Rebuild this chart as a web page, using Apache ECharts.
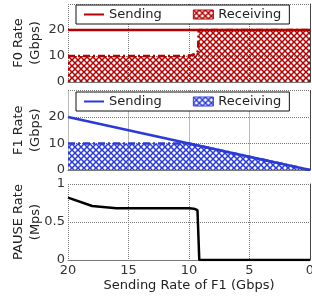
<!DOCTYPE html>
<html>
<head>
<meta charset="utf-8">
<script src="https://cdn.jsdelivr.net/npm/echarts@6/dist/echarts.min.js"></script>
<style>
  html, body { margin: 0; padding: 0; background: #fff; }
  #chart { width: 312px; height: 300px; }
</style>
</head>
<body>
<div id="chart"></div>
<script>
// F0 panel (x = sending rate of F1, y = Gbps)
const f0Sending = [[20, 20], [0, 20]]
const f0Receiving = [[20, 10], [10.4, 10], [9.8, 10.3], [9.4, 11], [9.25, 12], [9.2, 20], [0, 20]]
// F1 panel
const f1Sending = [[20, 20], [0, 0]]
const f1Receiving = [[20, 10], [10, 10], [0, 0]]
// PAUSE panel (Mps)
const pauseRate = [[20, 0.82], [18, 0.71], [16, 0.68], [14, 0.68], [12, 0.68], [10, 0.68], [9.6, 0.675], [9.3, 0.655], [9.15, 0], [0, 0]]

const xTicks = [0, 5, 10, 15, 20]
const legendNames = ['Sending', 'Receiving']

const RED = '#b30000'
const BLUE = '#2a3ad8'
const FONT = 'DejaVu Sans'

// crosshatch pattern used for the receiving areas
function hatch(color) {
  const c = document.createElement('canvas')
  c.width = 6
  c.height = 6
  const ctx = c.getContext('2d')
  ctx.strokeStyle = color
  ctx.lineWidth = 1.5
  ctx.beginPath()
  ctx.moveTo(-1, -1); ctx.lineTo(7, 7)
  ctx.moveTo(7, -1); ctx.lineTo(-1, 7)
  ctx.stroke()
  return { image: c, repeat: 'repeat' }
}
const redHatch = hatch(RED)
const blueHatch = hatch(BLUE)

const grids = [
  { left: 68, right: 2, top: 4, height: 78, outerBoundsMode: 'none' },
  { left: 68, right: 2, top: 90.5, height: 79.5, outerBoundsMode: 'none' },
  { left: 68, right: 2, top: 184, height: 76, outerBoundsMode: 'none' }
]

const gridLine = { show: true, lineStyle: { color: '#777', type: 'dotted', width: 1 } }

function xAxisFor(i, last) {
  return {
    gridIndex: i,
    type: 'value',
    inverse: true,
    min: xTicks[0],
    max: xTicks[xTicks.length - 1],
    interval: 5,
    axisLine: { show: true, onZero: false, lineStyle: { color: '#777', width: 1 } },
    axisTick: { show: false },
    splitLine: gridLine,
    axisLabel: { show: last, color: '#333', fontFamily: FONT, fontSize: 13, margin: 4 },
    name: last ? 'Sending Rate of F1 (Gbps)' : '',
    nameLocation: 'middle',
    nameGap: 19,
    nameMoveOverlap: false,
    nameTextStyle: { color: '#222', fontFamily: FONT, fontSize: 13 }
  }
}

function yAxisFor(i, name, max, interval) {
  return {
    gridIndex: i,
    type: 'value',
    min: 0,
    max: max,
    interval: interval,
    axisLine: { show: true, lineStyle: { color: '#444', width: 1 } },
    axisTick: { show: false },
    splitLine: gridLine,
    axisLabel: { color: '#333', fontFamily: FONT, fontSize: 13, margin: 3, showMaxLabel: max === 1 },
    name: name,
    nameLocation: 'middle',
    nameRotate: 90,
    nameGap: 24,
    nameMoveOverlap: false,
    nameTextStyle: { color: '#222', fontFamily: FONT, fontSize: 13, lineHeight: 17 }
  }
}

function legendFor(top, color, pattern) {
  return {
    left: 76,
    top: top,
    width: 226,
    orient: 'horizontal',
    backgroundColor: '#fff',
    borderColor: '#111',
    borderWidth: 1,
    borderRadius: 0,
    padding: [3, 8, 3, 8],
    itemGap: 31,
    itemWidth: 20,
    itemHeight: 9,
    selectedMode: false,
    textStyle: { color: '#222', fontFamily: FONT, fontSize: 13 },
    data: [
      { name: legendNames[0], icon: 'path://M0,4 L20,4 L20,6 L0,6 Z', itemStyle: { color: color } },
      { name: legendNames[1], icon: 'rect', itemStyle: { color: pattern, borderColor: color, borderWidth: 1 } }
    ]
  }
}

const chart = echarts.init(document.getElementById('chart'), null, { renderer: 'canvas' })

chart.setOption({
  animation: false,
  backgroundColor: '#fff',
  grid: grids,
  xAxis: [xAxisFor(0, false), xAxisFor(1, false), xAxisFor(2, true)],
  yAxis: [
    yAxisFor(0, 'F0 Rate\n(Gbps)', 30, 10),
    yAxisFor(1, 'F1 Rate\n(Gbps)', 30, 10),
    yAxisFor(2, 'PAUSE Rate\n(Mps)', 1, 0.5)
  ],
  legend: [legendFor(5, RED, redHatch), legendFor(92, BLUE, blueHatch)],
  series: [
    {
      name: 'Receiving',
      type: 'line',
      xAxisIndex: 0,
      yAxisIndex: 0,
      symbol: 'none',
      lineStyle: { color: RED, width: 2.5, type: [7, 3, 2, 3] },
      itemStyle: { color: RED },
      areaStyle: { color: redHatch, opacity: 1 },
      z: 2,
      data: f0Receiving
    },
    {
      name: 'Sending',
      type: 'line',
      xAxisIndex: 0,
      yAxisIndex: 0,
      symbol: 'none',
      lineStyle: { color: RED, width: 2.5 },
      itemStyle: { color: RED },
      z: 3,
      data: f0Sending
    },
    {
      name: 'Receiving',
      type: 'line',
      xAxisIndex: 1,
      yAxisIndex: 1,
      symbol: 'none',
      lineStyle: { color: BLUE, width: 2.5, type: [7, 3, 2, 3] },
      itemStyle: { color: BLUE },
      areaStyle: { color: blueHatch, opacity: 1 },
      z: 2,
      data: f1Receiving
    },
    {
      name: 'Sending',
      type: 'line',
      xAxisIndex: 1,
      yAxisIndex: 1,
      symbol: 'none',
      lineStyle: { color: BLUE, width: 2.5 },
      itemStyle: { color: BLUE },
      z: 3,
      data: f1Sending
    },
    {
      name: 'PAUSE',
      type: 'line',
      xAxisIndex: 2,
      yAxisIndex: 2,
      symbol: 'none',
      lineStyle: { color: '#000', width: 2.5 },
      itemStyle: { color: '#000' },
      z: 3,
      data: pauseRate
    }
  ]
})
</script>
</body>
</html>
